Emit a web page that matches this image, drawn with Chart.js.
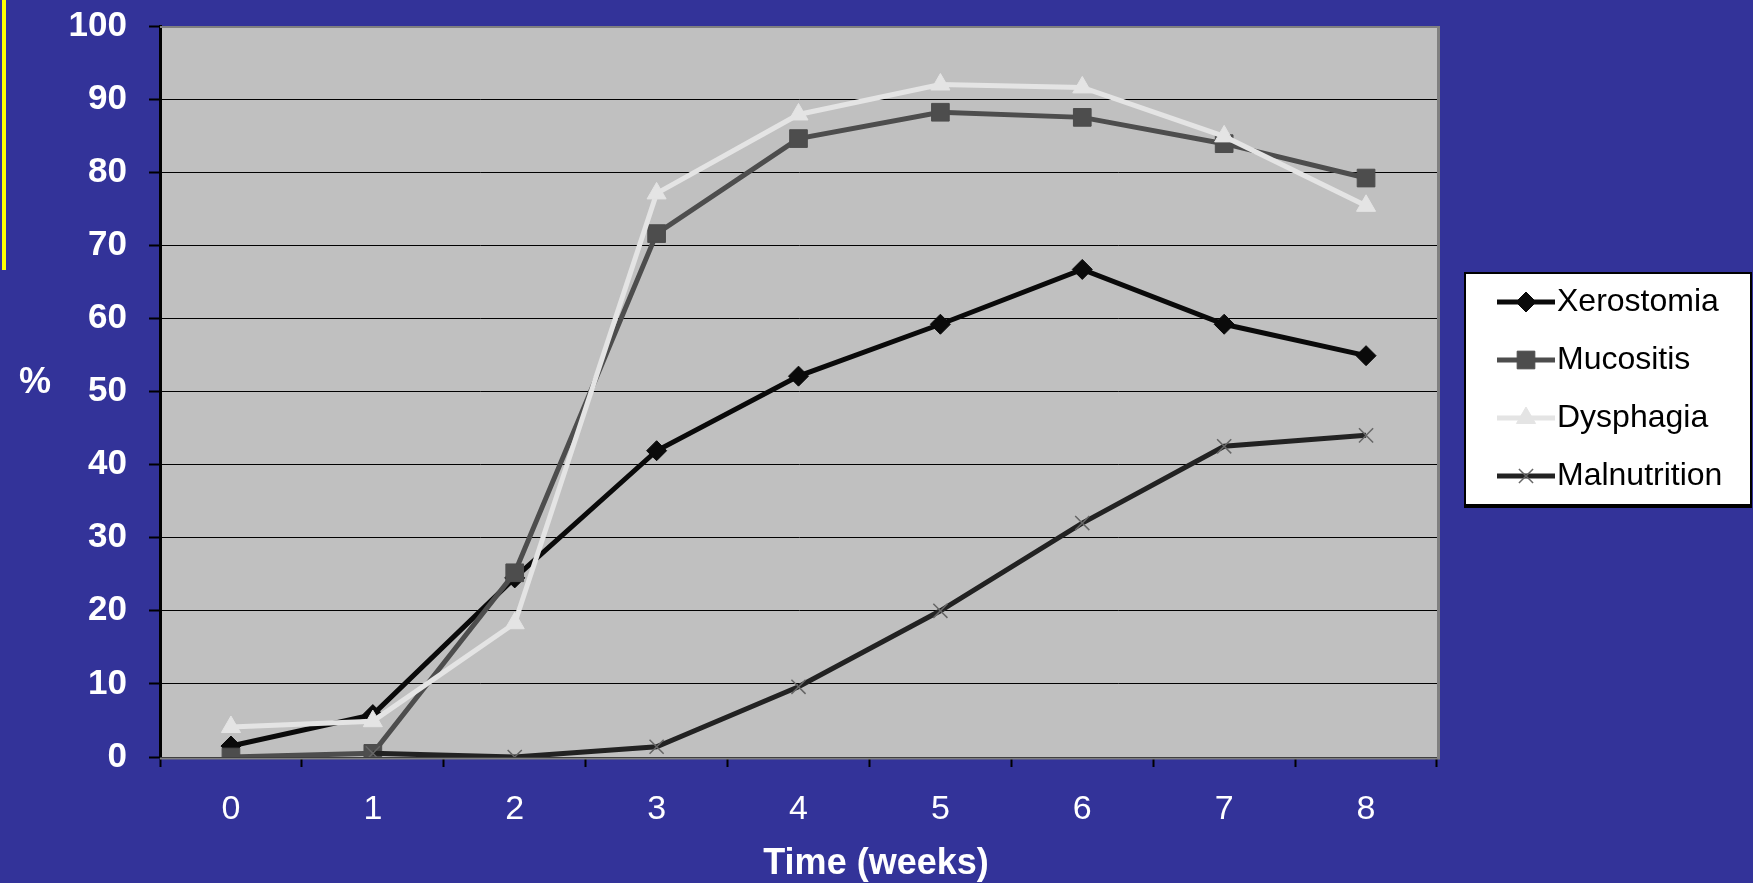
<!DOCTYPE html>
<html>
<head>
<meta charset="utf-8">
<script src="https://cdn.jsdelivr.net/npm/chart.js@4.4.1/dist/chart.umd.min.js"></script>
<style>
  html, body { margin: 0; padding: 0; background: #333399; }
  #wrap { width: 1753px; height: 883px; position: relative; }
</style>
</head>
<body>
<div id="wrap"><canvas id="c"></canvas></div>
<script>
const weeks = ['0', '1', '2', '3', '4', '5', '6', '7', '8'];
const xerostomia = [1.5, 5.8, 24.5, 41.9, 52.1, 59.2, 66.7, 59.2, 54.9];
const mucositis = [0, 0.5, 25.2, 71.6, 84.6, 88.2, 87.5, 83.9, 79.2];
const dysphagia = [4.1, 4.9, 18.3, 77.1, 87.9, 92.0, 91.6, 84.9, 75.4];
const malnutrition = [null, 0.5, 0, 1.4, 9.6, 20.0, 32.0, 42.5, 44.0];
const seriesNames = ['Xerostomia', 'Mucositis', 'Dysphagia', 'Malnutrition'];
const yMin = 0, yMax = 100, yStep = 10;
const yTitle = '%';
const xTitle = 'Time (weeks)';

const FONT = "'Liberation Sans', Arial, sans-serif";

const decor = {
  id: 'decor',
  beforeDraw(chart) {
    const { ctx, chartArea: a } = chart;
    ctx.save();
    ctx.fillStyle = '#C0C0C0';
    ctx.fillRect(a.left, a.top, a.right - a.left, a.bottom - a.top);
    ctx.fillStyle = '#FFFF00';
    ctx.fillRect(2, 0, 4, 270);
    ctx.restore();
  },
  beforeDatasetsDraw(chart) {
    const { ctx, chartArea: a } = chart;
    ctx.save();
    ctx.strokeStyle = '#808080';
    ctx.lineWidth = 2;
    ctx.beginPath();
    ctx.moveTo(a.left, a.top + 1);
    ctx.lineTo(a.right, a.top + 1);
    ctx.stroke();
    ctx.lineWidth = 3;
    ctx.beginPath();
    ctx.moveTo(a.right + 1.5, a.top);
    ctx.lineTo(a.right + 1.5, a.bottom + 2);
    ctx.stroke();
    ctx.lineWidth = 2;
    ctx.beginPath();
    ctx.moveTo(a.left, a.bottom + 1.5);
    ctx.lineTo(a.right + 3, a.bottom + 1.5);
    ctx.stroke();
    ctx.restore();
  },
  afterDraw(chart) {
    const { ctx } = chart;
    ctx.save();
    ctx.fillStyle = '#FFFFFF';
    ctx.font = 'bold 36px ' + FONT;
    ctx.textAlign = 'center';
    ctx.textBaseline = 'middle';
    ctx.fillText(yTitle, 35, 383);
    ctx.fillText(xTitle, 876, 864);

    const L = 1464, T = 272, R = 1752, B = 508;
    ctx.fillStyle = '#FFFFFF';
    ctx.fillRect(L, T, R - L, B - T);
    ctx.strokeStyle = '#000000';
    ctx.lineWidth = 2;
    ctx.strokeRect(L + 1, T + 1, R - L - 2, B - T - 2);
    ctx.fillStyle = '#000000';
    ctx.fillRect(L, B - 4, R - L, 4);

    chart.data.datasets.forEach((ds, i) => {
      const y = 302 + 58 * i;
      ctx.strokeStyle = ds.borderColor;
      ctx.lineWidth = ds.borderWidth;
      ctx.beginPath();
      ctx.moveTo(1497, y);
      ctx.lineTo(1555, y);
      ctx.stroke();
      ctx.fillStyle = ds.pointBackgroundColor;
      ctx.strokeStyle = ds.pointBorderColor;
      ctx.lineWidth = ds.pointBorderWidth;
      Chart.helpers.drawPoint(ctx, {
        pointStyle: ds.pointStyle,
        radius: ds.pointRadius,
        rotation: 0,
        borderWidth: ds.pointBorderWidth
      }, 1526, y);
      ctx.fillStyle = '#000000';
      ctx.font = '32px ' + FONT;
      ctx.textAlign = 'left';
      ctx.textBaseline = 'middle';
      ctx.fillText(ds.label, 1557, y);
    });
    ctx.restore();
  }
};

const yGridColor = (c) => (c.tick && c.tick.value === yMax) ? 'rgba(0,0,0,0)' : '#000000';

new Chart(document.getElementById('c'), {
  type: 'line',
  data: {
    labels: weeks,
    datasets: [
      { label: seriesNames[0], data: xerostomia, borderColor: '#0A0A0A', borderWidth: 5,
        pointStyle: 'rectRot', pointRadius: 10, pointBackgroundColor: '#0A0A0A', pointBorderColor: '#0A0A0A', pointBorderWidth: 1, order: 4 },
      { label: seriesNames[1], data: mucositis, borderColor: '#4D4D4D', borderWidth: 5,
        pointStyle: 'rect', pointRadius: 12.5, pointBackgroundColor: '#4D4D4D', pointBorderColor: '#4D4D4D', pointBorderWidth: 1, order: 3 },
      { label: seriesNames[2], data: dysphagia, borderColor: '#E4E4E4', borderWidth: 5,
        pointStyle: 'triangle', pointRadius: 11, pointBackgroundColor: '#E4E4E4', pointBorderColor: '#E4E4E4', pointBorderWidth: 1, order: 2 },
      { label: seriesNames[3], data: malnutrition, borderColor: '#222222', borderWidth: 5,
        pointStyle: 'crossRot', pointRadius: 10, pointBackgroundColor: '#666666', pointBorderColor: '#666666', pointBorderWidth: 1.5, order: 1 }
    ]
  },
  options: {
    responsive: true,
    maintainAspectRatio: false,
    animation: false,
    layout: { padding: { top: 26, right: 316, left: 0, bottom: 0 } },
    plugins: { legend: { display: false }, tooltip: { enabled: false } },
    elements: { line: { tension: 0 } },
    scales: {
      x: {
        type: 'category',
        offset: true,
        grid: { offset: true, drawOnChartArea: false, drawTicks: true, tickLength: 10, tickWidth: 2, tickColor: '#000000' },
        border: { display: true, color: '#000000', width: 1 },
        ticks: { color: '#FFFFFF', font: { family: FONT, size: 34 }, padding: 22, maxRotation: 0 },
        afterFit: (s) => { s.height = 126; s.paddingLeft = 0; s.paddingRight = 0; }
      },
      y: {
        min: yMin, max: yMax,
        ticks: { stepSize: yStep, color: '#FFFFFF', font: { family: FONT, size: 35, weight: 'bold' }, padding: 22 },
        grid: { color: yGridColor, lineWidth: 1, tickLength: 11, tickWidth: 2, tickColor: '#000000' },
        border: { display: true, color: '#000000', width: 3 },
        afterFit: (s) => { s.width = 160; s.paddingTop = 0; s.paddingBottom = 0; }
      }
    }
  },
  plugins: [decor]
});
</script>
</body>
</html>
